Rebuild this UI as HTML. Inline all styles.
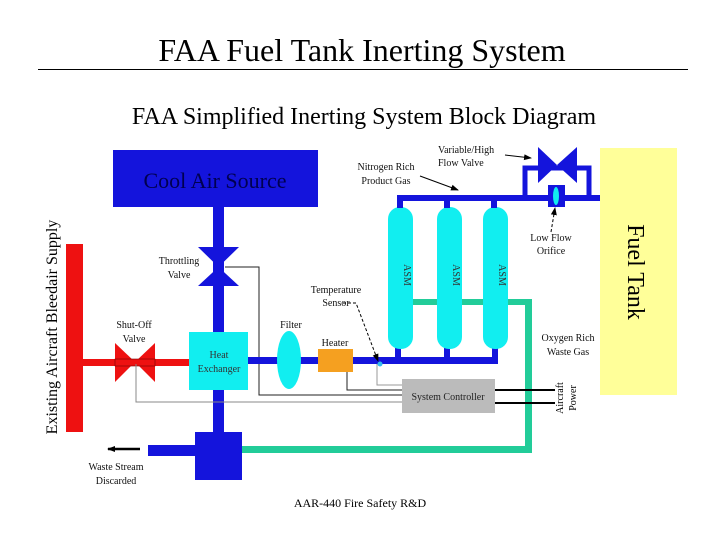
<!DOCTYPE html>
<html><head><meta charset="utf-8"><style>
html,body{margin:0;padding:0;background:#fff;}
svg{display:block;font-family:"Liberation Serif",serif;}
</style></head><body>
<svg width="720" height="540" viewBox="0 0 720 540" xmlns="http://www.w3.org/2000/svg">
<defs>
<marker id="ah" markerWidth="8" markerHeight="8" refX="7" refY="4" orient="auto" markerUnits="userSpaceOnUse"><path d="M0,1 L8,4 L0,7 Z" fill="#000"/></marker>
</defs>
<text x="362" y="61" font-size="32" text-anchor="middle">FAA Fuel Tank Inerting System</text>
<line x1="38" y1="69.5" x2="688" y2="69.5" stroke="#000" stroke-width="1"/>
<text x="364" y="124" font-size="24" text-anchor="middle">FAA Simplified Inerting System Block Diagram</text>

<!-- fuel tank -->
<rect x="600" y="148" width="77" height="247" fill="#ffff99"/>
<text transform="translate(628,272) rotate(90)" font-size="24" text-anchor="middle">Fuel Tank</text>

<!-- Cool air source -->
<rect x="113" y="150" width="205" height="57" fill="#1414dc"/>
<text x="215" y="188" font-size="22" text-anchor="middle" fill="#000050">Cool Air Source</text>

<!-- blue vertical pipe -->
<rect x="213" y="207" width="11" height="230" fill="#1414dc"/>
<!-- throttling valve -->
<polygon points="198,247 239,247 218.5,267" fill="#1414dc"/>
<polygon points="198,286 239,286 218.5,267" fill="#1414dc"/>

<!-- red bleed -->
<rect x="66" y="244" width="17" height="188" fill="#ee1111"/>
<rect x="83" y="359" width="106" height="7" fill="#ee1111"/>
<polygon points="115,343 115,382 135,362" fill="#ee1111"/>
<polygon points="155,343 155,382 135,362" fill="#ee1111"/>
<rect x="115" y="359" width="40" height="7" fill="none" stroke="#700" stroke-width="0.6"/>

<!-- control lines -->
<polyline points="225,267 259,267 259,395 402,395" fill="none" stroke="#222" stroke-width="1"/>
<polyline points="136,364 136,402 402,402" fill="none" stroke="#888" stroke-width="1"/>
<polyline points="347,372 347,390 402,390" fill="none" stroke="#222" stroke-width="1"/>
<polyline points="377,364 377,385 402,385" fill="none" stroke="#999" stroke-width="1"/>

<!-- heat exchanger -->
<rect x="189" y="332" width="59" height="58" fill="#11eef0"/>
<text x="219" y="358" font-size="10" text-anchor="middle" fill="#333">Heat</text>
<text x="219" y="372" font-size="10" text-anchor="middle" fill="#333">Exchanger</text>

<!-- blue main pipe -->
<rect x="248" y="357" width="250" height="7" fill="#1414dc"/>
<ellipse cx="289" cy="360" rx="12" ry="29" fill="#11eef0"/>
<rect x="318" y="349" width="35" height="23" fill="#f5a020"/>
<rect x="395" y="346" width="6" height="14" fill="#1414dc"/>
<rect x="444" y="346" width="6" height="14" fill="#1414dc"/>
<rect x="492" y="346" width="6" height="14" fill="#1414dc"/>
<circle cx="380" cy="364" r="2.5" fill="#33bbee"/>

<!-- green waste -->
<rect x="413" y="299" width="119" height="6" fill="#22cc99"/>
<rect x="525" y="299" width="7" height="154" fill="#22cc99"/>
<rect x="242" y="446" width="290" height="7" fill="#22cc99"/>

<!-- ASMs -->
<rect x="388" y="207" width="25" height="142" rx="12" fill="#11eef0"/>
<rect x="437" y="207" width="25" height="142" rx="12" fill="#11eef0"/>
<rect x="483" y="207" width="25" height="142" rx="12" fill="#11eef0"/>
<text transform="translate(404,275) rotate(90)" font-size="10" text-anchor="middle" fill="#333">ASM</text>
<text transform="translate(453,275) rotate(90)" font-size="10" text-anchor="middle" fill="#333">ASM</text>
<text transform="translate(499,275) rotate(90)" font-size="10" text-anchor="middle" fill="#333">ASM</text>

<!-- header -->
<rect x="397" y="195" width="203" height="6" fill="#1414dc"/>
<rect x="397" y="195" width="6" height="13" fill="#1414dc"/>
<rect x="444" y="195" width="6" height="13" fill="#1414dc"/>
<rect x="491" y="195" width="6" height="13" fill="#1414dc"/>
<polyline points="525,198 525,168 589,168 589,198" fill="none" stroke="#1414dc" stroke-width="5"/>
<polygon points="538,147 538,183 557,165" fill="#1414dc"/>
<polygon points="577,147 577,183 557,165" fill="#1414dc"/>
<rect x="548" y="185" width="17" height="22" fill="#1414dc"/>
<ellipse cx="556" cy="196" rx="3" ry="9" fill="#11eef0"/>

<!-- waste box -->
<rect x="195" y="432" width="47" height="48" fill="#1414dc"/>
<rect x="148" y="445" width="47" height="11" fill="#1414dc"/>
<line x1="140" y1="449" x2="108" y2="449" stroke="#000" stroke-width="2.5" marker-end="url(#ah)"/>

<!-- controller -->
<rect x="402" y="379" width="93" height="34" fill="#bbbbbb"/>
<text x="448" y="400" font-size="10" text-anchor="middle" fill="#222">System Controller</text>
<line x1="495" y1="390" x2="555" y2="390" stroke="#000" stroke-width="2"/>
<line x1="495" y1="403" x2="555" y2="403" stroke="#000" stroke-width="2"/>
<text transform="translate(563,398) rotate(-90)" font-size="10" text-anchor="middle">Aircraft</text>
<text transform="translate(576,398) rotate(-90)" font-size="10" text-anchor="middle">Power</text>

<!-- labels -->
<g font-size="10" fill="#111">
<text x="438" y="153">Variable/High</text>
<text x="438" y="166">Flow Valve</text>
<text x="386" y="170" text-anchor="middle">Nitrogen Rich</text>
<text x="386" y="184" text-anchor="middle">Product Gas</text>
<text x="551" y="241" text-anchor="middle">Low Flow</text>
<text x="551" y="254" text-anchor="middle">Orifice</text>
<text x="568" y="341" text-anchor="middle">Oxygen Rich</text>
<text x="568" y="355" text-anchor="middle">Waste Gas</text>
<text x="179" y="264" text-anchor="middle">Throttling</text>
<text x="179" y="278" text-anchor="middle">Valve</text>
<text x="134" y="328" text-anchor="middle">Shut-Off</text>
<text x="134" y="342" text-anchor="middle">Valve</text>
<text x="291" y="328" text-anchor="middle">Filter</text>
<text x="335" y="346" text-anchor="middle">Heater</text>
<text x="336" y="293" text-anchor="middle">Temperature</text>
<text x="336" y="306" text-anchor="middle">Sensor</text>
<text x="116" y="470" text-anchor="middle">Waste Stream</text>
<text x="116" y="484" text-anchor="middle">Discarded</text>
</g>
<line x1="505" y1="155" x2="531" y2="158" stroke="#000" stroke-width="1" marker-end="url(#ah)"/>
<line x1="420" y1="176" x2="458" y2="190" stroke="#000" stroke-width="1" marker-end="url(#ah)"/>
<line x1="551" y1="232" x2="555" y2="208" stroke="#000" stroke-width="1" stroke-dasharray="3,2" marker-end="url(#ah)"/>
<polyline points="343,303 356,303 378,361" fill="none" stroke="#000" stroke-width="1" stroke-dasharray="3,2" marker-end="url(#ah)"/>

<text transform="translate(57,327) rotate(-90)" font-size="16" text-anchor="middle">Existing Aircraft Bleedair Supply</text>

<text x="360" y="507" font-size="12" text-anchor="middle">AAR-440 Fire Safety R&amp;D</text>
</svg>
</body></html>
